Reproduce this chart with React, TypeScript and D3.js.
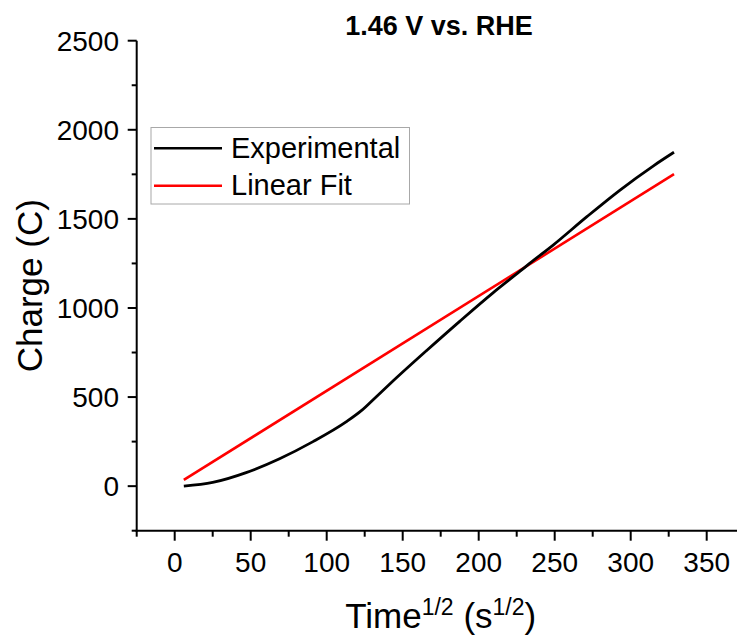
import React from "react";
import * as d3 from "d3";

// ---- data ----
const expX = [6, 25, 47, 69, 91, 113, 123, 133, 143.6, 165.6, 187.5, 209.4, 227, 233.5, 249, 271, 293, 315, 328.5];
const expY = [0, 21, 76, 154, 250, 362, 425, 505, 590, 760, 925, 1085, 1205, 1250, 1353, 1511, 1662, 1798, 1874];
const fitX = [6, 328.5];
const fitY = [35, 1751];
const xMajor = [0, 50, 100, 150, 200, 250, 300, 350];
const xMinor = [-25, 25, 75, 125, 175, 225, 275, 325, 375];
const yMajor = [0, 500, 1000, 1500, 2000, 2500];
const yMinor = [-250, 250, 750, 1250, 1750, 2250];
const seriesNames = ["Experimental", "Linear Fit"];
const seriesColors = ["#000000", "#ff0000"];
const title = "1.46 V vs. RHE";

const W = 737;
const H = 635;
const left = 136.7;
const right = 744.7;
const top = 40.7;
const bottom = 530.7;
const FONT = "'Liberation Sans', Arial, Helvetica, sans-serif";

export default function App() {
  const x = d3.scaleLinear().domain([-25, 375]).range([left, right]);
  const y = d3.scaleLinear().domain([-250, 2500]).range([bottom, top]);

  const line = d3
    .line<[number, number]>()
    .x((d) => x(d[0]))
    .y((d) => y(d[1]))
    .curve(d3.curveMonotoneX);
  const straight = d3
    .line<[number, number]>()
    .x((d) => x(d[0]))
    .y((d) => y(d[1]));

  const expPts: [number, number][] = expX.map((v, i) => [v, expY[i]]);
  const fitPts: [number, number][] = fitX.map((v, i) => [v, fitY[i]]);

  const xMid = (left + right) / 2;
  const yMid = (top + bottom) / 2;

  return (
    <svg
      width={W}
      height={H}
      style={{ position: "absolute", left: 0, top: 0, background: "#fff" }}
      fontFamily={FONT}
    >
      <rect x={0} y={0} width={W} height={H} fill="#fff" />
      {/* title */}
      <text x={439} y={35} textAnchor="middle" fontSize={27} fontWeight="bold" fill="#000">
        {title}
      </text>

      {/* data */}
      <path d={straight(fitPts) || ""} fill="none" stroke={seriesColors[1]} strokeWidth={2.6} />
      <path d={line(expPts) || ""} fill="none" stroke={seriesColors[0]} strokeWidth={2.8} />

      {/* axes */}
      <line x1={left} x2={left} y1={top} y2={bottom + 1} stroke="#000" strokeWidth={2} />
      <line x1={left - 1} x2={right} y1={bottom} y2={bottom} stroke="#000" strokeWidth={2} />

      {yMajor.map((v) => (
        <g key={"ym" + v}>
          <line x1={left - 9} x2={left} y1={y(v)} y2={y(v)} stroke="#000" strokeWidth={2} />
          <text x={119} y={y(v)} dy="0.36em" textAnchor="end" fontSize={28} fill="#000">
            {v}
          </text>
        </g>
      ))}
      {yMinor.map((v) => (
        <line key={"yn" + v} x1={left - 5} x2={left} y1={y(v)} y2={y(v)} stroke="#000" strokeWidth={2} />
      ))}
      {xMajor.map((v) => (
        <g key={"xm" + v}>
          <line x1={x(v)} x2={x(v)} y1={bottom} y2={bottom + 10} stroke="#000" strokeWidth={2} />
          <text x={x(v)} y={571.5} textAnchor="middle" fontSize={28} fill="#000">
            {v}
          </text>
        </g>
      ))}
      {xMinor.map((v) => (
        <line key={"xn" + v} x1={x(v)} x2={x(v)} y1={bottom} y2={bottom + 6} stroke="#000" strokeWidth={2} />
      ))}

      {/* axis titles */}
      <text x={xMid} y={628} textAnchor="middle" fontSize={35} fill="#000">
        Time
        <tspan fontSize={23} dy={-13}>1/2</tspan>
        <tspan dy={13}> (s</tspan>
        <tspan fontSize={23} dy={-13}>1/2</tspan>
        <tspan dy={13}>)</tspan>
      </text>
      <text
        transform={`translate(42,${yMid}) rotate(-90)`}
        textAnchor="middle"
        fontSize={35}
        fill="#000"
      >
        Charge (C)
      </text>

      {/* legend */}
      <rect x={151} y={127.5} width={258.5} height={76.5} fill="#fff" stroke="#a8a8a8" strokeWidth={1} />
      {seriesNames.map((n, i) => (
        <g key={n}>
          <line
            x1={154}
            x2={222}
            y1={148.3 + i * 37.4}
            y2={148.3 + i * 37.4}
            stroke={seriesColors[i]}
            strokeWidth={2.6}
          />
          <text x={231} y={158 + i * 37.4} fontSize={29} fill="#000">
            {n}
          </text>
        </g>
      ))}
    </svg>
  );
}
